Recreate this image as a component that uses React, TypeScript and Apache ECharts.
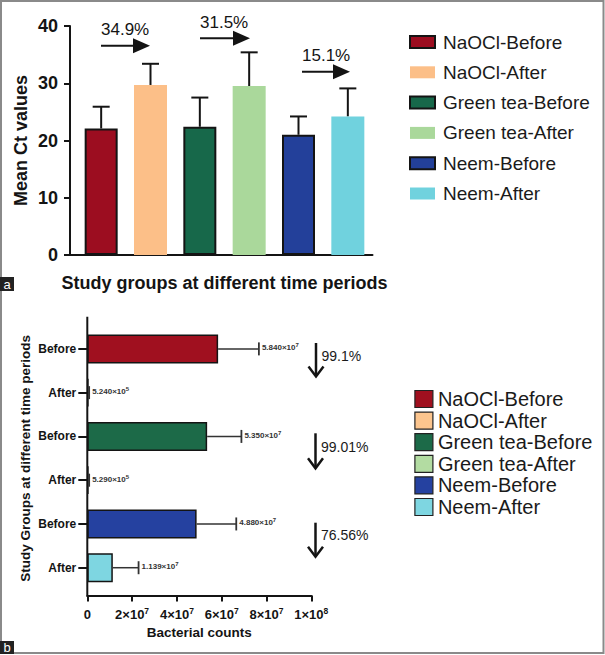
import React, { useEffect, useRef } from "react";
import * as echarts from "echarts";

// ---------- data ----------
const categories = [
  "NaOCl-Before",
  "NaOCl-After",
  "Green tea-Before",
  "Green tea-After",
  "Neem-Before",
  "Neem-After",
];
const topColors = ["#9c0d20", "#fcbf88", "#17684a", "#aad89b", "#23409a", "#70d2de"];
const bottomColors = ["#a0101f", "#fcc58e", "#1c6a48", "#b3dca2", "#2541a0", "#7ed6e1"];

// Panel a: mean Ct values and SD (upper error)
const ctMeans = [22.1, 29.7, 22.4, 29.5, 21.0, 24.2];
const ctSD = [3.8, 3.7, 5.1, 5.9, 3.2, 4.9];
const ctIncrease = ["34.9%", "31.5%", "15.1%"];

// Panel b: bacterial counts and SD
const timeLabels = ["Before", "After", "Before", "After", "Before", "After"];
const counts = [5.84e7, 5.24e5, 5.35e7, 5.29e5, 4.88e7, 1.139e7];
const countSD = [1.82e7, 3.0e5, 1.53e7, 3.0e5, 1.77e7, 1.15e7];
const countReduction = ["99.1%", "99.01%", "76.56%"];

const FONT = "'Liberation Sans', Arial, Helvetica, sans-serif";

function sci(v: number, digits: number | null) {
  if (v === 0) return "0";
  const e = Math.floor(Math.log10(v));
  const m = v / Math.pow(10, e);
  const ms = digits === null ? String(Math.round(m)) : m.toFixed(digits);
  return { m: ms, e: String(e) };
}

export default function App() {
  const ref = useRef<HTMLDivElement>(null);

  useEffect(() => {
    if (!ref.current) return;
    const chart = echarts.init(ref.current, undefined, { renderer: "svg" });

    const darkIdx = [0, 2, 4];
    const topSeries: any[] = categories.map((name, i) => ({
      type: "bar",
      name,
      xAxisIndex: 0,
      yAxisIndex: 0,
      barWidth: 33,
      barGap: "-100%",
      itemStyle: {
        color: topColors[i],
        borderColor: darkIdx.includes(i) ? "#141414" : topColors[i],
        borderWidth: darkIdx.includes(i) ? 2 : 0,
      },
      data: ctMeans.map((v, j) => (j === i ? v : "-")),
      z: 2,
    }));

    const topErr = {
      type: "custom",
      xAxisIndex: 0,
      yAxisIndex: 0,
      silent: true,
      z: 1,
      data: ctMeans.map((m, i) => [i, m, m + ctSD[i]]),
      encode: { x: 0, y: [1, 2] },
      renderItem: (params: any, api: any) => {
        const base = api.coord([api.value(0), api.value(1)]);
        const top = api.coord([api.value(0), api.value(2)]);
        const st = { stroke: "#141414", lineWidth: 2 };
        return {
          type: "group",
          children: [
            { type: "line", shape: { x1: base[0], y1: base[1], x2: top[0], y2: top[1] }, style: st },
            { type: "line", shape: { x1: top[0] - 8.5, y1: top[1], x2: top[0] + 8.5, y2: top[1] }, style: st },
          ],
        };
      },
    };

    const bottomBars = {
      type: "bar",
      name: "counts",
      xAxisIndex: 1,
      yAxisIndex: 1,
      barWidth: 29,
      data: counts.map((v, i) => ({
        value: v,
        itemStyle: { color: bottomColors[i], borderColor: "#141414", borderWidth: 1.5 },
      })),
      z: 2,
    };

    const bottomErr = {
      type: "custom",
      xAxisIndex: 1,
      yAxisIndex: 1,
      silent: true,
      z: 3,
      data: counts.map((v, i) => [v, i, countSD[i]]),
      encode: { x: 0, y: 1 },
      renderItem: (params: any, api: any) => {
        const v = api.value(0);
        const idx = api.value(1);
        const sd = api.value(2);
        const p0 = api.coord([v, idx]);
        const p1 = api.coord([v + sd, idx]);
        const st = { stroke: "#333", lineWidth: 1.5 };
        const s: any = sci(v, 3);
        return {
          type: "group",
          children: [
            { type: "line", shape: { x1: p0[0], y1: p0[1], x2: p1[0], y2: p1[1] }, style: st },
            { type: "line", shape: { x1: p1[0], y1: p1[1] - 6.5, x2: p1[0], y2: p1[1] + 6.5 }, style: { stroke: "#333", lineWidth: 1.8 } },
            {
              type: "text",
              x: p1[0] + 3,
              y: p1[1] - 1,
              style: {
                text: `{m|${s.m}×10}{s|${s.e}}`,
                align: "left",
                verticalAlign: "middle",
                fill: "#333",
                rich: {
                  m: { fontSize: 8, fontFamily: FONT, fill: "#333", lineHeight: 11, fontWeight: "bold" },
                  s: { fontSize: 6, fontFamily: FONT, fill: "#333", lineHeight: 6, verticalAlign: "top", fontWeight: "bold" },
                },
              },
            },
          ],
        };
      },
    };

    const axisLineStyle = { color: "#141414", width: 2 };

    const topArrows = [
      { tx: 101, ty: 29, ly: 45.7, x1: 101, x2: 150 },
      { tx: 200, ty: 22.5, ly: 38.3, x1: 200, x2: 250 },
      { tx: 302, ty: 55.8, ly: 71.7, x1: 302, x2: 350 },
    ];
    const bottomArrows = [
      { x: 316, y1: 343, y2: 376.5, tx: 321.5, ty: 355.5 },
      { x: 315.5, y1: 433.3, y2: 468.3, tx: 321, ty: 446.7 },
      { x: 315.5, y1: 522.7, y2: 556.7, tx: 321, ty: 535 },
    ];

    const graphic: any[] = [
      // frame
      { type: "rect", shape: { x: 1, y: 1, width: 602.5, height: 652 }, style: { fill: "none", stroke: "#8a8a8a", lineWidth: 2 }, z: 100 },
      // panel labels
      { type: "rect", shape: { x: 0, y: 277, width: 14, height: 14 }, style: { fill: "#222" }, z: 101 },
      { type: "text", x: 7, y: 284, style: { text: "a", fill: "#fff", font: `13px ${FONT}`, align: "center", verticalAlign: "middle" }, z: 102 },
      { type: "rect", shape: { x: 0, y: 641, width: 14, height: 13 }, style: { fill: "#222" }, z: 101 },
      { type: "text", x: 7, y: 647.5, style: { text: "b", fill: "#fff", font: `13px ${FONT}`, align: "center", verticalAlign: "middle" }, z: 102 },
      // axis extensions
      { type: "line", shape: { x1: 69, y1: 255, x2: 78, y2: 255 }, style: { stroke: "#141414", lineWidth: 2 } },
      { type: "line", shape: { x1: 87.3, y1: 316.7, x2: 87.3, y2: 596.6 }, style: { stroke: "#141414", lineWidth: 2 } },
    ];

    topArrows.forEach((a, k) => {
      graphic.push(
        { type: "text", x: a.tx, y: a.ty, style: { text: ctIncrease[k], fill: "#141414", font: `17px ${FONT}`, align: "left", verticalAlign: "middle" } },
        { type: "line", shape: { x1: a.x1, y1: a.ly, x2: a.x2 - 15, y2: a.ly }, style: { stroke: "#141414", lineWidth: 2 } },
        { type: "polygon", shape: { points: [[a.x2 - 17, a.ly - 7.5], [a.x2, a.ly], [a.x2 - 17, a.ly + 7.5]] }, style: { fill: "#141414" } }
      );
    });
    bottomArrows.forEach((a, k) => {
      graphic.push(
        { type: "text", x: a.tx, y: a.ty, style: { text: countReduction[k], fill: "#1a1a1a", font: `14px ${FONT}`, align: "left", verticalAlign: "middle" } },
        { type: "line", shape: { x1: a.x, y1: a.y1, x2: a.x, y2: a.y2 - 1 }, style: { stroke: "#141414", lineWidth: 2.5 } },
        { type: "polyline", shape: { points: [[a.x - 7.5, a.y2 - 10], [a.x, a.y2], [a.x + 7.5, a.y2 - 10]] }, style: { stroke: "#141414", lineWidth: 2.5, fill: "none" } }
      );
    });

    const option: any = {
      animation: false,
      textStyle: { fontFamily: FONT },
      grid: [
        { left: 76.5, top: 26, width: 296, height: 229 },
        { left: 87.3, top: 327, width: 224, height: 262.6 },
      ],
      legend: [
        {
          orient: "vertical",
          left: 404,
          top: 27.5,
          icon: "rect",
          itemWidth: 25,
          itemHeight: 12,
          itemGap: 11.3,
          selectedMode: false,
          data: categories,
          textStyle: { fontSize: 19, lineHeight: 19, color: "#1a1a1a", fontFamily: FONT, padding: [0, 0, 0, 3] },
        },
        {
          orient: "vertical",
          left: 409.3,
          top: 384,
          icon: "rect",
          itemWidth: 18,
          itemHeight: 17,
          itemGap: 1.6,
          selectedMode: false,
          data: categories.map((n, i) => ({
            name: n,
            itemStyle: { color: bottomColors[i], borderColor: "#222", borderWidth: 1.2 },
          })),
          textStyle: { fontSize: 20, lineHeight: 20, color: "#1a1a1a", fontFamily: FONT, padding: [0, 0, 0, 0] },
        },
      ],
      xAxis: [
        {
          type: "category",
          gridIndex: 0,
          data: categories,
          axisLine: { lineStyle: axisLineStyle },
          axisTick: { alignWithLabel: true, length: 10, lineStyle: axisLineStyle },
          axisLabel: { show: false },
          name: "Study groups at different time periods",
          nameLocation: "middle",
          nameGap: 19,
          nameTextStyle: { fontSize: 18, fontWeight: "bold", color: "#141414", fontFamily: FONT },
        },
        {
          type: "value",
          gridIndex: 1,
          min: 0,
          max: 1e8,
          interval: 2e7,
          offset: 6,
          splitLine: { show: false },
          axisLine: { show: true, lineStyle: axisLineStyle },
          axisTick: { show: true, length: 6, lineStyle: axisLineStyle },
          axisLabel: {
            margin: 11,
            formatter: (v: number) => {
              if (v === 0) return "{m|0}";
              const s: any = sci(v, null);
              return `{m|${s.m}×10}{s|${s.e}}`;
            },
            rich: {
              m: { fontSize: 13, fontWeight: "bold", color: "#141414", fontFamily: FONT, lineHeight: 16 },
              s: { fontSize: 8.5, fontWeight: "bold", color: "#141414", fontFamily: FONT, lineHeight: 9, verticalAlign: "top" },
            },
          },
          name: "Bacterial counts",
          nameLocation: "middle",
          nameGap: 30,
          nameTextStyle: { fontSize: 13.5, fontWeight: "bold", color: "#141414", fontFamily: FONT },
        },
      ],
      yAxis: [
        {
          type: "value",
          gridIndex: 0,
          min: 0,
          max: 40,
          interval: 10,
          offset: 6.5,
          splitLine: { show: false },
          axisLine: { show: true, lineStyle: axisLineStyle },
          axisTick: { show: true, length: 6, lineStyle: axisLineStyle },
          axisLabel: { margin: 12, fontSize: 18, fontWeight: "bold", color: "#141414", fontFamily: FONT },
          name: "Mean Ct values",
          nameLocation: "middle",
          nameGap: 40,
          nameTextStyle: { fontSize: 18, fontWeight: "bold", color: "#141414", fontFamily: FONT },
        },
        {
          type: "category",
          gridIndex: 1,
          inverse: true,
          data: categories,
          axisLine: { show: false },
          axisTick: { show: true, alignWithLabel: true, length: 9, lineStyle: axisLineStyle },
          axisLabel: {
            margin: 11,
            fontSize: 12,
            fontWeight: "bold",
            color: "#141414",
            fontFamily: FONT,
            formatter: (_v: string, i: number) => timeLabels[i],
          },
          name: "Study Groups at different time periods",
          nameLocation: "middle",
          nameGap: 55,
          nameTextStyle: { fontSize: 13.5, fontWeight: "bold", color: "#141414", fontFamily: FONT },
        },
      ],
      series: [...topSeries, topErr, bottomBars, bottomErr],
      graphic,
    };

    chart.setOption(option);
    return () => chart.dispose();
  }, []);

  return (
    <div
      ref={ref}
      style={{ position: "absolute", left: 0, top: 0, width: 605, height: 655, background: "#fff" }}
    />
  );
}
